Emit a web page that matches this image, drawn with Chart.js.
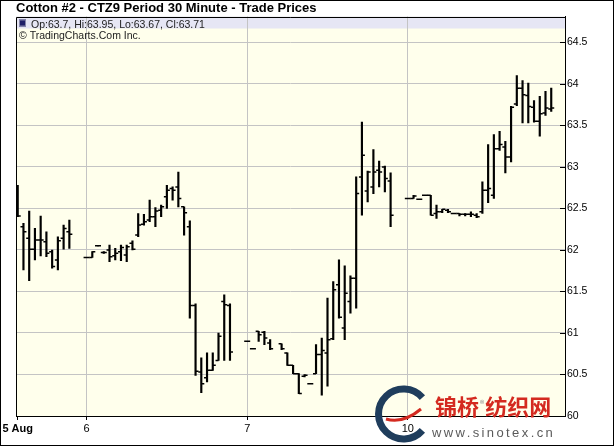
<!DOCTYPE html>
<html><head><meta charset="utf-8">
<script src="https://cdn.jsdelivr.net/npm/chart.js@4.4.0/dist/chart.umd.min.js"></script>
<style>
html,body{margin:0;padding:0;background:#fff;}
#wrap{position:relative;width:614px;height:446px;overflow:hidden;}
#c{position:absolute;left:0;top:0;}
#wm-logo{position:absolute;left:375px;top:383px;}
#wm-cn{position:absolute;left:435px;top:392px;font-family:"Noto Sans CJK SC",sans-serif;font-weight:bold;font-size:22px;line-height:26px;color:#D42A20;white-space:nowrap;}
#wm-cn sup{font-size:9px;color:#888;font-weight:normal;vertical-align:top;position:relative;top:-1px;margin:0 1px;}
#wm-url{position:absolute;left:432px;top:425px;font-family:"Liberation Sans",Arial,sans-serif;font-size:13px;letter-spacing:2.4px;color:#5a5a5a;white-space:nowrap;}
</style></head>
<body>
<div id="wrap">
<canvas id="c" width="614" height="446"></canvas>
<svg id="wm-logo" width="58" height="62">
  <path d="M 47.4 14.6 A 25 25 0 1 0 47.4 47.4" fill="none" stroke="#1F3D5C" stroke-width="7"/>
  <path d="M 11 36 Q 28 41 46 26" fill="none" stroke="#D42A20" stroke-width="3"/>
</svg>
<div id="wm-cn">锦桥<sup>®</sup>纺织网</div>
<div id="wm-url">www.sinotex.cn</div>
</div>
<script>
// ---- data ----
const dayLabels = ['5 Aug', '6', '7', '10'];
const firstSlot = [16, 0, 0, 0];       // half-hour slot of the first bar in each session
const slotsPerDay = 28;
const barsPerDay = [10, 26, 26, 26];
const yTicks = [60, 60.5, 61, 61.5, 62, 62.5, 63, 63.5, 64, 64.5];

const opens = [
  62.66, 62.28, 62.14, 62.01, 62.12, 62.10, 61.98, 61.88, 62.14, 62.22,
  61.91, 61.91, 62.05, 61.97, 62.00, 61.93, 61.98, 61.94, 62.08, 62.18, 62.31, 62.36, 62.40, 62.48, 62.64, 62.74, 62.76, 62.52, 62.28, 61.33, 60.53, 60.46, 60.55, 60.67, 61.38, 61.33,
  60.90, 60.81, 61.02, 61.01, 60.88, null, 60.87, 60.76, 60.61, 60.51, 60.48, 60.39, 60.51, 60.74, 60.76, 60.93, 61.58, 61.06, 61.38, 61.66, 62.88, 62.71, 62.76, 62.96, 63.00, 62.83,
  62.62, 62.62, 62.61, 62.66, 62.66, 62.44, 62.46, 62.48, 62.44, 62.44, 62.43, 62.43, 62.42, 62.46, 62.72, 62.66, 63.22, 63.24, 63.12, 63.76, 63.95, 63.86, 63.72, 63.55, 63.65, 63.7
];
const highs = [
  62.78, 62.32, 62.47, 62.26, 62.41, 62.22, 62.00, 62.16, 62.30, 62.36,
  61.91, 61.98, 62.05, 61.98, 62.06, 62.02, 62.06, 62.06, 62.11, 62.44, 62.43, 62.60, 62.51, 62.54, 62.78, 62.76, 62.94, 62.52, 62.35, 61.35, 60.70, 60.76, 60.76, 61.00, 61.46, 61.35,
  60.90, 60.81, 61.02, 61.02, 60.92, null, 60.87, 60.76, 60.61, 60.51, 60.50, 60.39, 60.86, 60.94, 61.42, 61.62, 61.88, 61.81, 61.69, 62.88, 63.54, 62.95, 63.21, 63.07, 63.01, 62.93,
  62.62, 62.66, 62.61, 62.66, 62.66, 62.54, 62.49, 62.49, 62.44, 62.44, 62.44, 62.46, 62.44, 62.82, 63.27, 63.39, 63.43, 63.31, 63.73, 64.10, 64.04, 64.01, 63.80, 63.85, 63.91, 63.95
];
const lows = [
  62.40, 61.76, 61.63, 61.88, 61.93, 61.92, 61.78, 61.76, 62.01, 62.02,
  61.91, 61.91, 62.05, 61.96, 61.86, 61.88, 61.87, 61.86, 62.00, 62.16, 62.30, 62.34, 62.28, 62.40, 62.50, 62.60, 62.52, 62.18, 61.18, 60.49, 60.28, 60.41, 60.55, 60.67, 60.67, 60.67,
  60.90, 60.81, 60.90, 60.86, 60.80, null, 60.80, 60.61, 60.51, 60.27, 60.47, 60.39, 60.51, 60.25, 60.36, 60.92, 61.18, 60.92, 61.24, 61.30, 62.42, 62.58, 62.68, 62.76, 62.70, 62.28,
  62.62, 62.62, 62.61, 62.66, 62.42, 62.38, 62.45, 62.45, 62.44, 62.41, 62.41, 62.40, 62.39, 62.44, 62.57, 62.62, 63.20, 62.93, 63.06, 63.74, 63.53, 63.53, 63.54, 63.37, 63.62, 63.67
];
const closes = [
  62.41, 62.22, 62.01, 62.12, 62.12, 61.96, 61.80, 62.11, 62.26, 62.19,
  61.91, 61.98, 62.05, 61.97, 61.92, 61.96, 62.03, 62.04, 62.01, 62.30, 62.34, 62.40, 62.47, 62.52, 62.72, 62.72, 62.62, 62.45, 61.33, 60.54, 60.39, 60.55, 60.61, 60.96, 61.34, 60.77,
  60.90, 60.81, 60.98, 60.94, 60.81, null, 60.81, 60.61, 60.51, 60.27, 60.49, 60.39, 60.74, 60.79, 60.92, 61.52, 61.19, 61.48, 61.66, 62.68, 63.14, 62.94, 62.94, 62.94, 62.86, 62.42,
  62.62, 62.65, 62.61, 62.66, 62.42, 62.46, 62.49, 62.46, 62.44, 62.43, 62.43, 62.43, 62.40, 62.72, 62.74, 63.22, 63.27, 63.12, 63.72, 63.95, 63.87, 63.73, 63.55, 63.64, 63.71, 63.71
];

// ---- build bars ----
const bars = [];
let idx = 0;
barsPerDay.forEach((n, d) => {
  for (let k = 0; k < n; k++, idx++) {
    if (opens[idx] == null) continue;
    bars.push({ x: d * slotsPerDay + firstSlot[d] + k, o: opens[idx], h: highs[idx], l: lows[idx], c: closes[idx] });
  }
});
const dayTicks = dayLabels.map((_, d) => d * slotsPerDay + firstSlot[d]);
const last = bars[bars.length - 1];
const legendText = 'Op:' + last.o + ', Hi:' + last.h + ', Lo:' + last.l + ', Cl:' + last.c;

const FONT = '"Liberation Sans", Arial, sans-serif';

const ohlcPlugin = {
  id: 'ohlc',
  beforeDraw(chart) {
    const { ctx, chartArea: a } = chart;
    ctx.save();
    ctx.fillStyle = '#ffffff';
    ctx.fillRect(0, 0, chart.width, chart.height);
    ctx.fillStyle = '#FFFFEC';
    ctx.fillRect(a.left, a.top, a.right - a.left, a.bottom - a.top);
    ctx.fillStyle = '#E6E6F4';
    ctx.fillRect(a.left, a.top, a.right - a.left, 12);
    ctx.restore();
  },
  afterDatasetsDraw(chart) {
    const { ctx, chartArea: a } = chart;
    const xs = chart.scales.x, ys = chart.scales.y;
    ctx.save();
    ctx.beginPath();
    ctx.rect(a.left, a.top, a.right - a.left, a.bottom - a.top);
    ctx.clip();
    ctx.strokeStyle = '#000';
    ctx.lineWidth = 1.5;
    bars.forEach(b => {
      const px = xs.getPixelForValue(b.x);
      const oy = ys.getPixelForValue(b.o);
      const cy = ys.getPixelForValue(b.c);
      ctx.beginPath();
      ctx.moveTo(px - 3, oy); ctx.lineTo(px, oy);
      ctx.moveTo(px, cy); ctx.lineTo(px + 3, cy);
      ctx.stroke();
    });
    ctx.restore();
  },
  afterDraw(chart) {
    const { ctx, chartArea: a } = chart;
    const ys = chart.scales.y;
    ctx.save();
    ctx.strokeStyle = '#000';
    ctx.lineWidth = 1;
    ctx.beginPath();
    ctx.moveTo(Math.round(a.left) + 0.5, a.bottom);
    ctx.lineTo(Math.round(a.left) + 0.5, Math.round(a.top) + 0.5);
    ctx.lineTo(a.right, Math.round(a.top) + 0.5);
    ctx.stroke();
    ctx.beginPath();
    yTicks.forEach(v => {
      const y = Math.round(ys.getPixelForValue(v)) + 0.5;
      ctx.moveTo(a.right - 5, y); ctx.lineTo(a.right, y);
    });
    ctx.stroke();
    ctx.fillStyle = '#202068';
    ctx.fillRect(a.left + 3, a.top + 3, 7, 7);
    ctx.strokeStyle = '#8888aa';
    ctx.strokeRect(a.left + 3.5, a.top + 3.5, 6, 6);
    ctx.fillStyle = '#222';
    ctx.font = '10.5px ' + FONT;
    ctx.textBaseline = 'alphabetic';
    ctx.fillText(legendText, a.left + 15, a.top + 11);
    ctx.fillText('\u00A9 TradingCharts.Com Inc.', a.left + 3, a.top + 22);
    ctx.strokeStyle = '#000';
    ctx.strokeRect(0.5, 0.5, chart.width - 1, chart.height - 1);
    ctx.restore();
  }
};

new Chart(document.getElementById('c'), {
  type: 'bar',
  data: {
    datasets: [{
      data: bars.map(b => ({ x: b.x, y: [b.l, b.h] })),
      backgroundColor: '#000',
      borderWidth: 0,
      barThickness: 1.5
    }]
  },
  options: {
    responsive: false,
    animation: false,
    devicePixelRatio: 1,
    layout: { padding: { left: 16, right: 0, top: 0, bottom: 0 } },
    plugins: {
      legend: { display: false },
      tooltip: { enabled: false },
      title: {
        display: true,
        text: 'Cotton #2 - CTZ9 Period 30 Minute - Trade Prices',
        align: 'start',
        color: '#000',
        font: { family: FONT, size: 13, weight: 'bold', lineHeight: 1.2 },
        padding: { top: 0.5, bottom: 0.4 }
      }
    },
    scales: {
      x: {
        type: 'linear',
        min: 15.7,
        max: 111.4,
        offset: false,
        afterBuildTicks: s => { s.ticks = dayTicks.map(v => ({ value: v })); },
        afterFit: s => { s.height = 30; },
        ticks: {
          autoSkip: false, maxRotation: 0, minRotation: 0, padding: 2, color: '#000',
          font: c => ({ family: FONT, size: 11, weight: c.index === 0 ? 'bold' : 'normal' }),
          callback: (v, i) => dayLabels[i]
        },
        grid: {
          offset: false,
          color: c => c.index === 0 ? 'rgba(0,0,0,0)' : '#C4C4C4',
          tickColor: '#000', tickLength: 4, lineWidth: 1
        },
        border: { display: true, color: '#000', width: 1 }
      },
      y: {
        type: 'linear',
        position: 'right',
        min: 60,
        max: 64.813,
        afterBuildTicks: s => { s.ticks = yTicks.map(v => ({ value: v })); },
        afterFit: s => { s.width = 49; },
        ticks: {
          autoSkip: false, padding: 2, color: '#000',
          font: { family: FONT, size: 10.5 },
          callback: v => String(v)
        },
        grid: { color: '#C4C4C4', tickLength: 0, lineWidth: 1 },
        border: { display: true, color: '#000', width: 1 }
      }
    }
  },
  plugins: [ohlcPlugin]
});
</script>
</body></html>
